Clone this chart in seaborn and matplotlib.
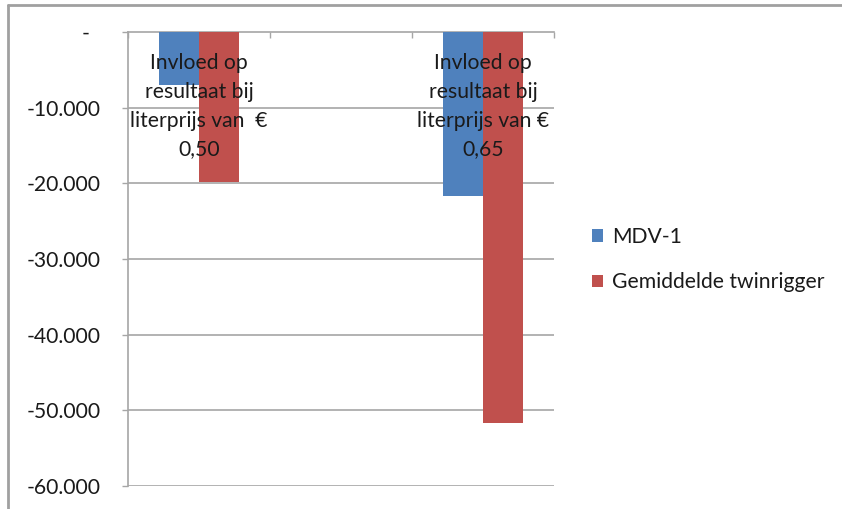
import numpy as np
import pandas as pd
import matplotlib
matplotlib.use("Agg")
import matplotlib.pyplot as plt
from matplotlib.lines import Line2D
import seaborn as sns

# Categories (middle slot is an empty spacer category)
categories = [
    "Invloed op\nresultaat bij\nliterprijs van  \u20ac\n0,50",
    "",
    "Invloed op\nresultaat bij\nliterprijs van \u20ac\n0,65",
]
series_names = ["MDV-1", "Gemiddelde twinrigger"]
mdv1 = [-7000, np.nan, -21700]
twinrigger = [-19800, np.nan, -51700]
y_ticks = [-60000, -50000, -40000, -30000, -20000, -10000, 0]
y_tick_labels = ["-60.000", "-50.000", "-40.000", "-30.000", "-20.000", "-10.000", "-  "]

colors = {"MDV-1": "#4F81BD", "Gemiddelde twinrigger": "#C0504D"}
grid_color = "#A6A6A6"
text_color = "#1A1A1A"
fs = 15.2

df = pd.DataFrame({
    "categorie": categories * 2,
    "reeks": [series_names[0]] * 3 + [series_names[1]] * 3,
    "waarde": mdv1 + twinrigger,
})

sns.set_theme(style="white")
plt.rcParams["font.family"] = ["Lato", "DejaVu Sans"]

W, H = 842, 509
fig = plt.figure(figsize=(W / 100, H / 100), dpi=100)
ax = fig.add_axes([128 / W, (H - 486) / H, (554 - 128) / W, (486 - 32) / H])

sns.barplot(
    data=df.dropna(), x="categorie", y="waarde", hue="reeks",
    order=categories, hue_order=series_names, palette=colors,
    width=0.565, errorbar=None, saturation=1, linewidth=0, ax=ax, zorder=3,
)

ax.set_xlim(-0.5, 2.5)
ax.set_ylim(-60000, 0)
ax.set_xlabel("")
ax.set_ylabel("")

# value axis
ax.set_yticks(y_ticks)
ax.set_yticklabels(y_tick_labels, fontsize=fs, color=text_color)
ax.tick_params(axis="y", which="major", direction="out", length=4.3,
               width=1, color=grid_color, pad=15.5, left=True)
for yv in y_ticks[:-1]:
    ax.axhline(yv, color=grid_color, lw=1.2, zorder=1)

# category axis at zero, tick marks at category boundaries
ax.set_xticks([-0.5, 0.5, 1.5, 2.5])
ax.set_xticklabels([])
ax.xaxis.set_ticks_position("top")
ax.tick_params(axis="x", direction="in", length=4.3, width=1, color=grid_color,
               top=True, bottom=False, labeltop=False, labelbottom=False)

for side in ["right", "bottom"]:
    ax.spines[side].set_visible(False)
for side in ["left", "top"]:
    ax.spines[side].set_visible(True)
    ax.spines[side].set_color(grid_color)
    ax.spines[side].set_linewidth(1.2)
    ax.spines[side].set_zorder(2)

# category labels drawn inside the plot near the zero line
for i, cat in enumerate(categories):
    if cat:
        ax.text(i, -9800, cat, ha="center", va="center", fontsize=fs,
                color=text_color, linespacing=1.55, zorder=5)

# legend
handles, labels = ax.get_legend_handles_labels()
ax.legend_.remove()
leg = fig.legend(handles, labels, loc="center left",
                 bbox_to_anchor=(592 / W, 1 - 259.5 / H), frameon=False,
                 fontsize=fs, handlelength=0.52, handleheight=0.52,
                 handletextpad=0.42, labelspacing=1.2, borderpad=0,
                 borderaxespad=0)
for t in leg.get_texts():
    t.set_color(text_color)

# outer chart frame
fig.add_artist(Line2D([8 / W, 1], [1 - 5 / H, 1 - 5 / H], color="#A0A0A0",
                      lw=2, transform=fig.transFigure))
fig.add_artist(Line2D([8 / W, 8 / W], [0, 1 - 5 / H], color="#A0A0A0",
                      lw=2, transform=fig.transFigure))

fig.savefig("out.png", dpi=100, facecolor="white")
